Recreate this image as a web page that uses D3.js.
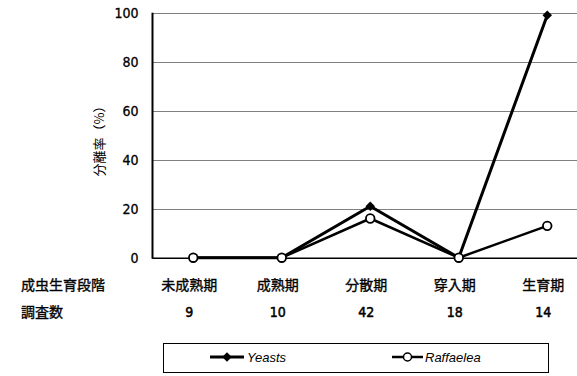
<!DOCTYPE html>
<html><head><meta charset="utf-8">
<script src="https://cdn.jsdelivr.net/npm/d3@7/dist/d3.min.js"></script>
<style>
body{margin:0;background:#fff;}
svg{display:block;}
</style></head>
<body><svg id="c" width="577" height="376"></svg>
<script>
const categories = ["未成熟期","成熟期","分散期","穿入期","生育期"];
const counts = ["9","10","42","18","14"];
const yeasts = [0, 0, 21, 0, 99];
const raffaelea = [0, 0, 16, 0, 13];
const yTicks = [0, 20, 40, 60, 80, 100];
const seriesNames = ["Yeasts", "Raffaelea"];
const rowLabels = ["成虫生育段階", "調査数"];
const yTitle = "分離率（%）";

const svg = d3.select("#c");
const jp = "'Noto Sans CJK JP', sans-serif";
const num = "'Liberation Sans Narrow','DejaVu Sans Condensed', sans-serif";

const x = d3.scaleBand().domain(categories).range([149, 591.5]).padding(0);
const cx = d => x(d) + x.bandwidth() / 2;
const y = d3.scaleLinear().domain([0, 100]).range([257.7, 12.7]);
const axisX = 152.5, right = 577;

// gridlines
svg.append("g").selectAll("line").data(yTicks.filter(t => t > 0)).join("line")
  .attr("x1", axisX).attr("x2", right)
  .attr("y1", d => Math.round(y(d)) + 0.5).attr("y2", d => Math.round(y(d)) + 0.5)
  .attr("stroke", "#808080").attr("stroke-width", 1);

// axis y
const yAxis = d3.axisLeft(y).tickValues(yTicks).tickSize(0).tickPadding(14);
const ga = svg.append("g").attr("transform", `translate(${axisX},0)`).call(yAxis);
ga.select(".domain").remove();
ga.selectAll("text").attr("font-family", num).attr("font-size", 14).attr("fill", "#000")
  .attr("stroke", "#000").attr("stroke-width", 0.3);
svg.append("line").attr("x1", axisX).attr("x2", axisX).attr("y1", y(100)).attr("y2", y(0) + 1)
  .attr("stroke", "#000").attr("stroke-width", 2);
svg.append("line").attr("x1", axisX).attr("x2", right).attr("y1", y(0) + 0.5).attr("y2", y(0) + 0.5)
  .attr("stroke", "#000").attr("stroke-width", 1.5);

// y title
svg.append("text").attr("transform", `translate(104,138) rotate(-90)`)
  .attr("text-anchor", "middle").attr("font-family", jp).attr("font-size", 13).text(yTitle);

// lines
const line = d3.line().x((d, i) => cx(categories[i])).y(d => y(d));
svg.append("path").datum(yeasts).attr("d", line).attr("fill", "none")
  .attr("stroke", "#000").attr("stroke-width", 3).attr("stroke-linejoin", "round");
svg.append("path").datum(raffaelea).attr("d", line).attr("fill", "none")
  .attr("stroke", "#000").attr("stroke-width", 2.5).attr("stroke-linejoin", "round");

const diamond = d3.symbol().type(d3.symbolSquare).size(45);
svg.append("g").selectAll("path").data(yeasts).join("path")
  .attr("d", diamond)
  .attr("transform", (d, i) => `translate(${cx(categories[i])},${y(d)}) rotate(45)`)
  .attr("fill", "#000");
svg.append("g").selectAll("circle").data(raffaelea).join("circle")
  .attr("cx", (d, i) => cx(categories[i])).attr("cy", d => y(d)).attr("r", 4.3)
  .attr("fill", "#fff").attr("stroke", "#000").attr("stroke-width", 1.8);

// category labels
svg.append("g").selectAll("text").data(categories).join("text")
  .attr("x", d => cx(d) - 4).attr("y", 290).attr("text-anchor", "middle")
  .attr("font-family", jp).attr("font-size", 14).attr("stroke", "#000").attr("stroke-width", 0.35).text(d => d);
svg.append("g").selectAll("text").data(counts).join("text")
  .attr("x", (d, i) => cx(categories[i]) - 4).attr("y", 317).attr("text-anchor", "middle")
  .attr("font-family", num).attr("font-size", 14).attr("stroke", "#000").attr("stroke-width", 0.5).text(d => d);
svg.append("g").selectAll("text").data(rowLabels).join("text")
  .attr("x", 21).attr("y", (d, i) => 290 + i * 27)
  .attr("font-family", jp).attr("font-size", 14).attr("stroke", "#000").attr("stroke-width", 0.35).text(d => d);

// legend
svg.append("rect").attr("x", 163.5).attr("y", 343.5).attr("width", 385).attr("height", 29)
  .attr("fill", "none").attr("stroke", "#000").attr("stroke-width", 1);
const lg = [{x0: 210, x1: 244, tx: 247}, {x0: 392, x1: 423, tx: 425}];
seriesNames.forEach((name, i) => {
  const L = lg[i], ly = 357, mx = (L.x0 + L.x1) / 2;
  svg.append("line").attr("x1", L.x0).attr("x2", L.x1).attr("y1", ly).attr("y2", ly)
    .attr("stroke", "#000").attr("stroke-width", i === 0 ? 3 : 2.5);
  if (i === 0) {
    svg.append("path").attr("d", diamond).attr("transform", `translate(${mx},${ly}) rotate(45)`).attr("fill", "#000");
  } else {
    svg.append("circle").attr("cx", mx).attr("cy", ly).attr("r", 4)
      .attr("fill", "#fff").attr("stroke", "#000").attr("stroke-width", 1.5);
  }
  svg.append("text").attr("x", L.tx).attr("y", ly + 5).attr("font-family", "'Liberation Sans', Arial, sans-serif")
    .attr("font-size", 13).attr("font-style", "italic").text(name);
});
</script></body></html>
